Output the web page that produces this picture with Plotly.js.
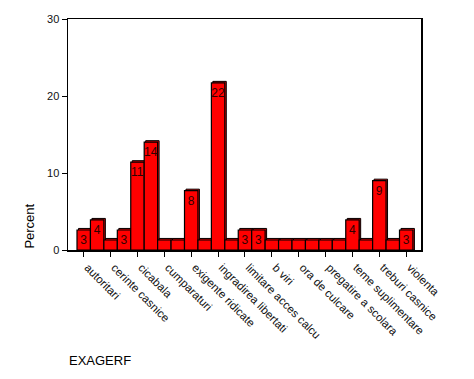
<!DOCTYPE html>
<html>
<head>
<meta charset="utf-8">
<script src="https://cdn.plot.ly/plotly-3.0.1.min.js"></script>
<style>html,body{margin:0;padding:0;background:#fff;}#chart{width:474px;height:379px;}</style>
</head>
<body>
<div id="chart"></div>
<script>
// Bar values (percent), one per bar, left to right
const percentValues = [2.6, 3.9, 1.3, 2.6, 11.4, 14.0, 1.3, 1.3, 7.7, 1.3, 21.7, 1.3, 2.6, 2.6, 1.3, 1.3, 1.3, 1.3, 1.3, 1.3, 3.9, 1.3, 9.0, 1.3, 2.6];
// Value labels shown on bars
const barLabels = ["3", "4", "", "3", "11", "14", "", "", "8", "", "22", "", "3", "3", "", "", "", "", "", "", "4", "", "9", "", "3"];
// Category tick labels (every other bar)
const tickLabels = ["autoritari", "cerinte casnice", "cicabala", "cumparaturi", "exigente ridicate", "ingradirea libertati", "limitare acces calcu", "b viri", "ora de culcare", "pregatire a scolara", "teme suplimentare", "treburi casnice", "violenta"];
const yTicks = [0, 10, 20, 30];

const xIdx = percentValues.map((_, i) => i);
const tickVals = tickLabels.map((_, i) => i * 2);

const FONT = "Arial, 'Liberation Sans', sans-serif";

const shadow = {
  type: 'bar',
  x: xIdx,
  y: percentValues.map(v => v + 0.2),
  width: 1,
  offset: -0.5 + 0.11,
  marker: {color: '#ff0000', line: {color: '#000', width: 1}},
  hoverinfo: 'skip',
  showlegend: false
};
const main = {
  type: 'bar',
  x: xIdx,
  y: percentValues,
  width: 1,
  offset: -0.5,
  text: barLabels,
  textposition: 'inside',
  insidetextanchor: 'end',
  constraintext: 'none',
  textangle: 0,
  insidetextfont: {family: FONT, size: 12, color: '#300000'},
  marker: {color: '#ff0000', line: {color: '#000', width: 1.2}},
  showlegend: false
};

const layout = {
  width: 474, height: 379,
  margin: {l: 68, r: 53, t: 19, b: 129, pad: 0},
  paper_bgcolor: '#fff', plot_bgcolor: '#fff',
  barmode: 'overlay',
  showlegend: false,
  font: {family: FONT, size: 11, color: '#000'},
  xaxis: {
    range: [-1.17, 25.1],
    tickmode: 'array', tickvals: tickVals, ticktext: tickLabels,
    tickangle: 45,
    ticklabelshift: 4,
    ticks: 'outside', ticklen: 5, tickcolor: '#000', tickwidth: 1,
    showline: true, linecolor: '#000', linewidth: 1.5, mirror: true,
    showgrid: false, zeroline: false,
    tickfont: {family: FONT, size: 11.5, color: '#111'}
  },
  yaxis: {
    range: [0, 30],
    tickmode: 'array', tickvals: yTicks,
    ticks: 'outside', ticklen: 5, tickcolor: '#000', tickwidth: 1,
    showline: true, linecolor: '#000', linewidth: 1.5, mirror: true,
    showgrid: false, zeroline: false,
    tickfont: {family: FONT, size: 11, color: '#111'}
  },
  annotations: [
    {text: 'Percent', xref: 'paper', yref: 'paper', x: -0.108, y: 0.105, xanchor: 'center', yanchor: 'middle',
     textangle: -90, showarrow: false, font: {family: FONT, size: 13, color: '#000'}},
    {text: 'EXAGERF', xref: 'paper', yref: 'paper', x: -0.003, y: -0.478, xanchor: 'left', yanchor: 'middle',
     showarrow: false, font: {family: FONT, size: 13, color: '#000'}}
  ]
};

Plotly.newPlot('chart', [shadow, main], layout, {displayModeBar: false, staticPlot: true});
</script>
</body>
</html>
